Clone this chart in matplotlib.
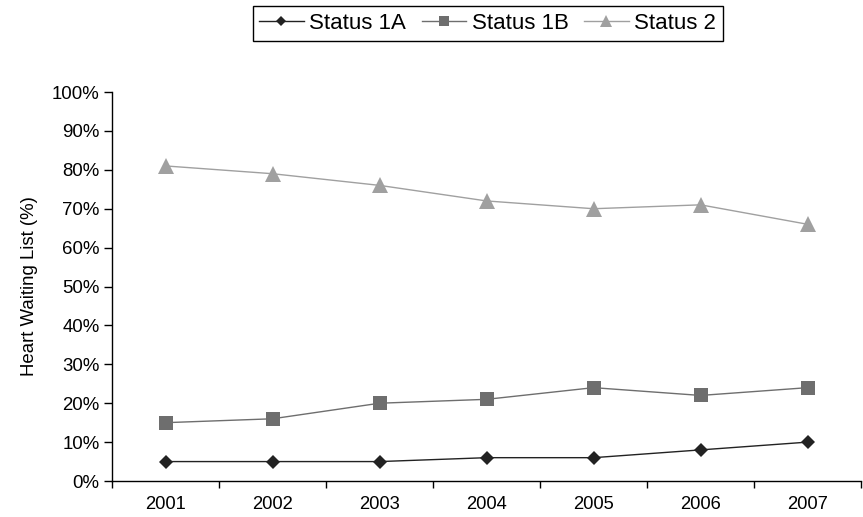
import matplotlib.pyplot as plt
import numpy as np

plt.rcParams['font.family'] = ['Liberation Sans', 'DejaVu Sans']

years = ['2001', '2002', '2003', '2004', '2005', '2006', '2007']
status_1a = [5, 5, 5, 6, 6, 8, 10]
status_1b = [15, 16, 20, 21, 24, 22, 24]
status_2 = [81, 79, 76, 72, 70, 71, 66]

fig = plt.figure(figsize=(8.63, 5.17), dpi=100)
ax = fig.add_axes([0.1298, 0.0696, 0.8680, 0.7524])

x = np.arange(len(years))
ax.plot(x, status_1a, color='#222222', linewidth=1.0, marker='D', markersize=7,
        markeredgewidth=0, label='Status 1A')
ax.plot(x, status_1b, color='#6e6e6e', linewidth=1.0, marker='s', markersize=9.5,
        markeredgewidth=0, label='Status 1B')
ax.plot(x, status_2, color='#a0a0a0', linewidth=1.0, marker='^', markersize=11,
        markeredgewidth=0, label='Status 2')

ax.set_xlim(-0.5, len(years) - 0.5)
ax.set_ylim(0, 100)
ax.set_yticks(np.arange(0, 101, 10))
ax.set_yticklabels([f'{v}%' for v in range(0, 101, 10)], fontsize=13.4)

# category boundaries get the tick marks, labels sit in the middle
ax.set_xticks(np.arange(-0.5, len(years), 1.0))
ax.set_xticklabels([])
ax.set_xticks(x, minor=True)
ax.set_xticklabels(years, minor=True, fontsize=13.2)
ax.tick_params(axis='x', which='major', length=5, width=1, direction='out')
ax.tick_params(axis='x', which='minor', length=0, pad=11)
ax.tick_params(axis='y', length=6, width=1, direction='out', pad=3)

for side in ['top', 'right']:
    ax.spines[side].set_visible(False)
for side in ['left', 'bottom']:
    ax.spines[side].set_linewidth(1.0)
    ax.spines[side].set_color('black')

ax.set_ylabel('Heart Waiting List (%)', fontsize=13.4, labelpad=10)

leg = fig.legend(loc='center', bbox_to_anchor=(0.565, 0.9545), ncol=3,
                 fontsize=16, frameon=True, fancybox=False, edgecolor='black',
                 framealpha=1, handlelength=2.0, handletextpad=0.25,
                 columnspacing=0.7, borderpad=0.3, markerscale=0.8)
leg.get_frame().set_linewidth(1.0)

fig.savefig('out.png', dpi=100)
